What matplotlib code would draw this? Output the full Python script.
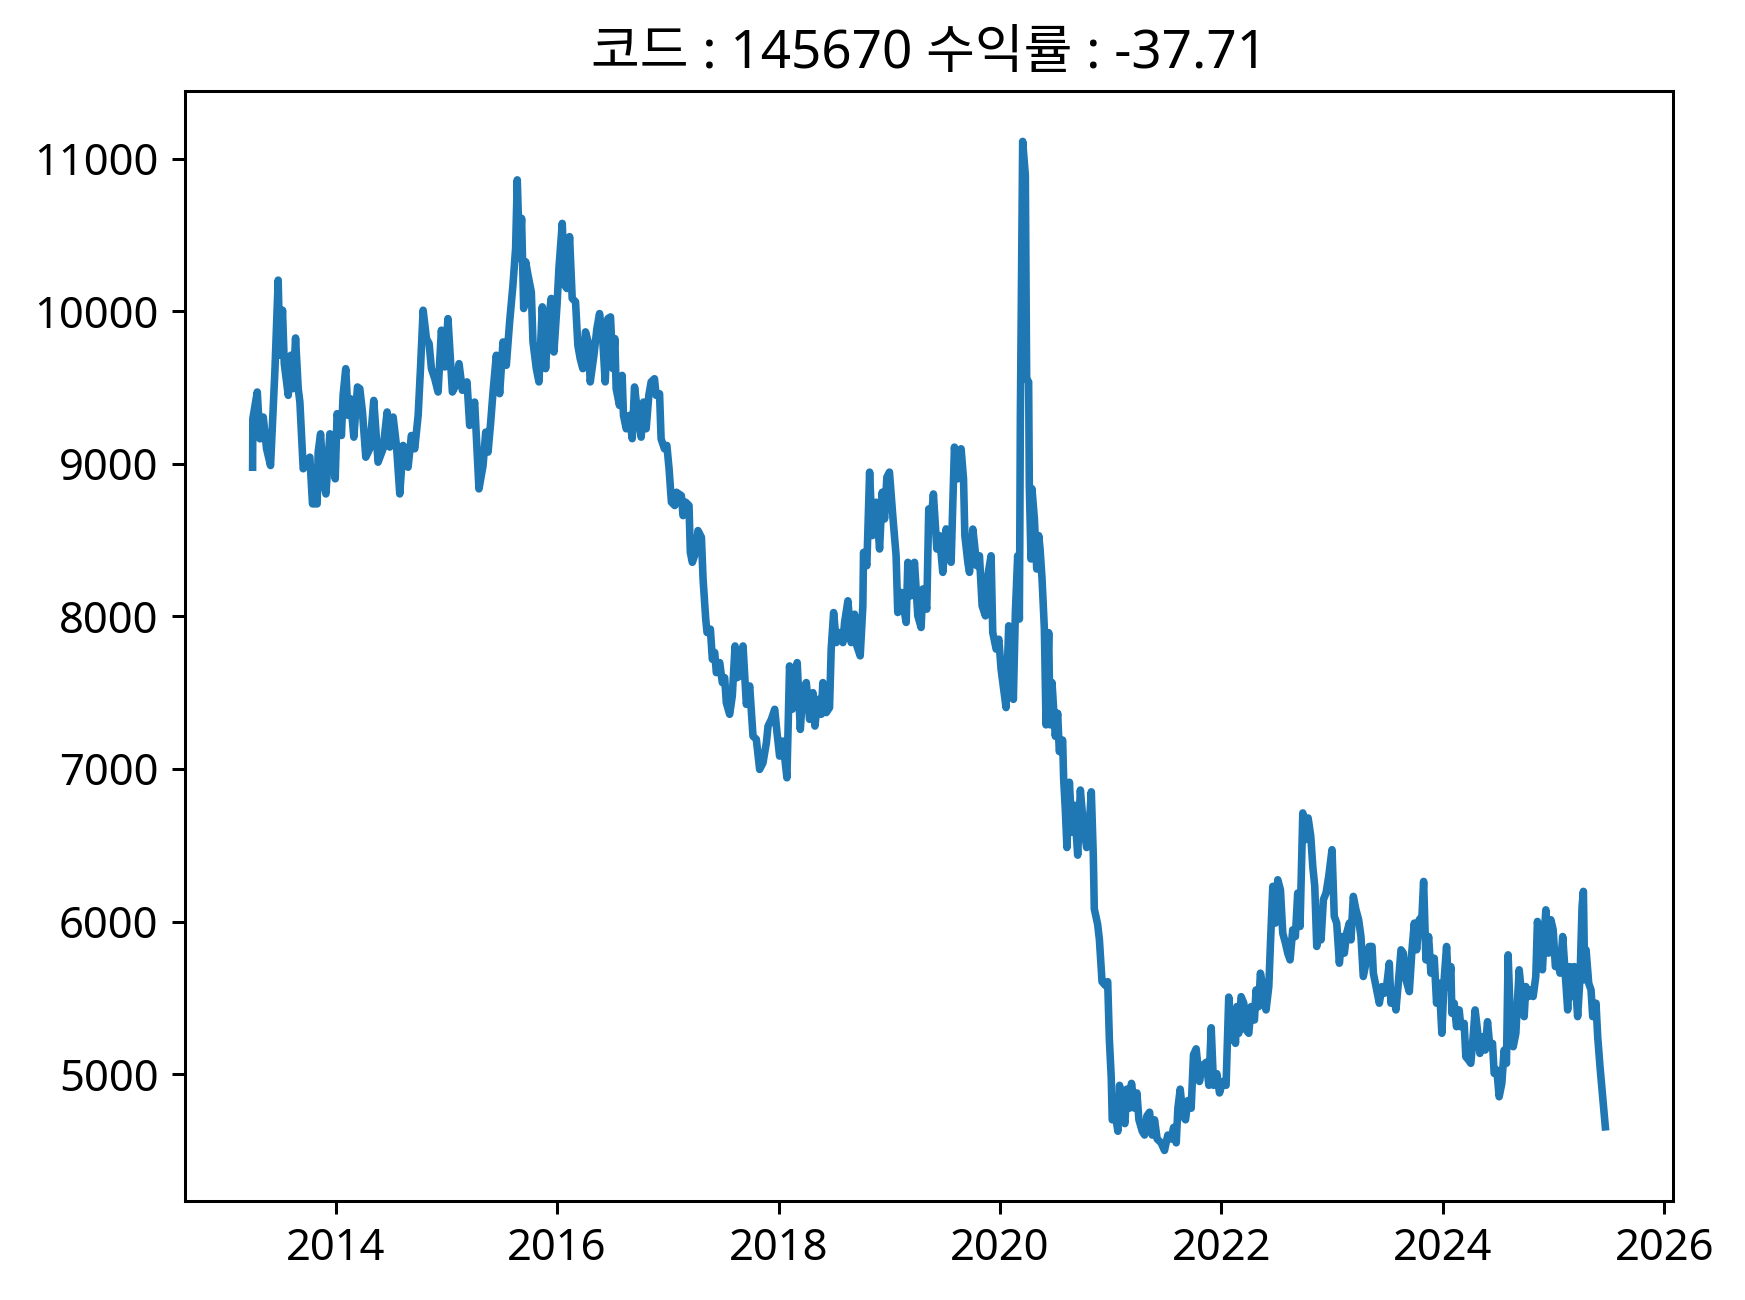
import matplotlib
matplotlib.use("Agg")
import matplotlib.pyplot as plt
import matplotlib.dates as mdates
import pandas as pd

# 숫자는 Noto Sans, 한글은 Noto Sans CJK KR 로
plt.rcParams['font.family'] = ['Noto Sans', 'Noto Sans CJK KR', 'DejaVu Sans']

code = '145670'
ret = -37.71

# 날짜 (소수 연도) / 종가 - 그림에서 읽은 값
t1 = [2013.248, 2013.250, 2013.290, 2013.314, 2013.344, 2013.374, 2013.410, 2013.434, 2013.449, 2013.479,
      2013.494, 2013.518, 2013.534, 2013.570, 2013.594, 2013.615, 2013.636, 2013.660, 2013.675, 2013.705,
      2013.765, 2013.789, 2013.831, 2013.840, 2013.862, 2013.886, 2013.910, 2013.946, 2013.970, 2013.994,
      2014.012, 2014.051, 2014.066, 2014.090, 2014.111, 2014.133, 2014.163, 2014.196, 2014.217, 2014.241,
      2014.271, 2014.307, 2014.343, 2014.382, 2014.427, 2014.464, 2014.488, 2014.518, 2014.548, 2014.578,
      2014.608, 2014.653, 2014.683, 2014.713, 2014.744, 2014.765, 2014.789, 2014.819, 2014.843, 2014.864,
      2014.894, 2014.924, 2014.954, 2014.984, 2015.014, 2015.054, 2015.084, 2015.114, 2015.144, 2015.186,
      2015.210, 2015.255, 2015.294, 2015.331, 2015.355, 2015.376, 2015.400, 2015.421, 2015.451, 2015.481,
      2015.511, 2015.541, 2015.571, 2015.601, 2015.625, 2015.640, 2015.661, 2015.679, 2015.698, 2015.716,
      2015.737, 2015.767, 2015.782, 2015.812, 2015.836, 2015.866, 2015.896, 2015.920, 2015.947, 2015.971,
      2015.999, 2016.017, 2016.047, 2016.068, 2016.089, 2016.113, 2016.137, 2016.167, 2016.188, 2016.209,
      2016.233, 2016.257, 2016.281, 2016.300, 2016.333, 2016.360, 2016.384, 2016.414, 2016.435, 2016.459,
      2016.483, 2016.504, 2016.522, 2016.534, 2016.564, 2016.588, 2016.600, 2016.625, 2016.655, 2016.679,
      2016.700, 2016.730, 2016.760, 2016.781, 2016.805, 2016.829, 2016.850, 2016.880, 2016.895, 2016.926]
p1 = [8977, 9295, 9470, 9163, 9306, 9098, 8988, 9360, 9601, 10203,
      9711, 10006, 9656, 9448, 9711, 9492, 9824, 9492, 9404, 8967,
      9043, 8737, 8737, 9076, 9196, 8879, 8802, 9196, 9185, 8901,
      9328, 9185, 9448, 9623, 9317, 9426, 9174, 9503, 9492, 9339,
      9043, 9098, 9415, 9010, 9098, 9339, 9109, 9306, 9120, 8802,
      9120, 8977, 9185, 9098, 9317, 9623, 10006, 9820, 9787, 9623,
      9557, 9470, 9875, 9634, 9951, 9470, 9514, 9656, 9481, 9536,
      9251, 9404, 8835, 8988, 9207, 9076, 9273, 9470, 9711, 9459,
      9798, 9645, 9929, 10170, 10411, 10860, 10345, 10608, 10017, 10323,
      10236, 10126, 9798, 9623, 9536, 10028, 9623, 9929, 10083, 9732,
      10039, 10280, 10575, 10170, 10148, 10488, 10083, 10061, 9776, 9689,
      9623, 9864, 9798, 9536, 9711, 9886, 9984, 9798, 9536, 9951,
      9962, 9623, 9820, 9492, 9382, 9579, 9317, 9229, 9317, 9164,
      9503, 9317, 9174, 9404, 9229, 9448, 9536, 9557, 9448, 9459]

t2 = [2016.940, 2016.970, 2016.992, 2017.010, 2017.031, 2017.061, 2017.076, 2017.121, 2017.136, 2017.160,
      2017.190, 2017.202, 2017.220, 2017.250, 2017.271, 2017.302, 2017.317, 2017.341, 2017.353, 2017.383,
      2017.401, 2017.422, 2017.437, 2017.467, 2017.491, 2017.512, 2017.527, 2017.557, 2017.581, 2017.606,
      2017.624, 2017.648, 2017.678, 2017.708, 2017.738, 2017.768, 2017.798, 2017.828, 2017.858, 2017.889,
      2017.904, 2017.934, 2017.964, 2017.985, 2018.009, 2018.039, 2018.075, 2018.099, 2018.123, 2018.168,
      2018.196, 2018.220, 2018.250, 2018.280, 2018.310, 2018.328, 2018.355, 2018.385, 2018.400, 2018.430,
      2018.460, 2018.475, 2018.497, 2018.521, 2018.551, 2018.581, 2018.596, 2018.626, 2018.656, 2018.686,
      2018.707, 2018.737, 2018.761, 2018.767, 2018.797, 2018.822, 2018.846, 2018.882, 2018.912, 2018.936,
      2018.957, 2018.978, 2019.002, 2019.032, 2019.062, 2019.077, 2019.107, 2019.153, 2019.168, 2019.198,
      2019.228, 2019.258, 2019.288, 2019.303, 2019.339, 2019.357, 2019.378, 2019.399, 2019.430, 2019.454,
      2019.484, 2019.514, 2019.559, 2019.589, 2019.619, 2019.649, 2019.671, 2019.683, 2019.710, 2019.725,
      2019.755, 2019.791, 2019.815, 2019.839, 2019.869, 2019.890, 2019.920, 2019.935, 2019.966, 2019.990,
      2020.011, 2020.056, 2020.080, 2020.101, 2020.122, 2020.140, 2020.161, 2020.176, 2020.180, 2020.185,
      2020.206, 2020.230, 2020.242, 2020.260, 2020.266, 2020.281, 2020.290, 2020.312, 2020.333, 2020.351,
      2020.363, 2020.381]
p2 = [9163, 9098, 9120, 8966, 8748, 8726, 8813, 8791, 8660, 8748,
      8726, 8419, 8354, 8419, 8562, 8518, 8244, 7982, 7894, 7916,
      7719, 7763, 7631, 7697, 7566, 7598, 7434, 7358, 7478, 7806,
      7598, 7609, 7806, 7423, 7544, 7215, 7194, 6997, 7040, 7172,
      7281, 7325, 7391, 7237, 7084, 7183, 6942, 7675, 7391, 7697,
      7259, 7522, 7566, 7325, 7500, 7281, 7456, 7358, 7566, 7369,
      7402, 7785, 8025, 7828, 7894, 7828, 7960, 8102, 7828, 8014,
      7806, 7741, 8069, 8419, 8332, 8945, 8529, 8748, 8441, 8813,
      8638, 8912, 8945, 8660, 8397, 8025, 8157, 7960, 8354, 8135,
      8354, 8004, 7927, 8179, 8047, 8704, 8616, 8802, 8441, 8529,
      8288, 8573, 8354, 9109, 8901, 9098, 8901, 8529, 8354, 8288,
      8572, 8332, 8397, 8069, 8003, 8266, 8397, 7894, 7785, 7850,
      7653, 7402, 7938, 7697, 7456, 8025, 8397, 7982, 8507, 9295,
      11112, 10892, 9557, 9535, 8857, 8376, 8836, 8638, 8310, 8529,
      8442, 8245]

t3 = [2020.402, 2020.417, 2020.441, 2020.453, 2020.471, 2020.501, 2020.522, 2020.537, 2020.567, 2020.576,
      2020.591, 2020.606, 2020.628, 2020.652, 2020.673, 2020.703, 2020.727, 2020.754, 2020.784, 2020.808,
      2020.826, 2020.844, 2020.853, 2020.883, 2020.899, 2020.923, 2020.953, 2020.974, 2020.989, 2021.004,
      2021.013, 2021.043, 2021.064, 2021.079, 2021.103, 2021.127, 2021.145, 2021.169, 2021.187, 2021.215,
      2021.236, 2021.254, 2021.284, 2021.305, 2021.326, 2021.350, 2021.374, 2021.395, 2021.419, 2021.455,
      2021.485, 2021.515, 2021.546, 2021.567, 2021.591, 2021.606, 2021.627, 2021.651, 2021.675, 2021.696,
      2021.726, 2021.747, 2021.771, 2021.801, 2021.825, 2021.862, 2021.886, 2021.907, 2021.928, 2021.958,
      2021.982, 2022.012, 2022.042, 2022.066, 2022.087, 2022.102, 2022.127, 2022.139, 2022.157, 2022.178,
      2022.202, 2022.223, 2022.247, 2022.268, 2022.298, 2022.313, 2022.337, 2022.352, 2022.379, 2022.403,
      2022.428, 2022.443, 2022.464, 2022.488, 2022.509, 2022.533, 2022.554, 2022.578, 2022.599, 2022.620,
      2022.644, 2022.668, 2022.689, 2022.710, 2022.735, 2022.759, 2022.783, 2022.807, 2022.825, 2022.843,
      2022.861, 2022.879, 2022.900, 2022.921, 2022.945, 2022.969, 2022.999, 2023.020, 2023.042, 2023.066,
      2023.090, 2023.111, 2023.132, 2023.156, 2023.171, 2023.192, 2023.216, 2023.240, 2023.261, 2023.282,
      2023.306, 2023.336, 2023.361, 2023.373, 2023.397, 2023.427, 2023.451, 2023.472, 2023.496, 2023.517,
      2023.532, 2023.556, 2023.577, 2023.601, 2023.623, 2023.644, 2023.668, 2023.698, 2023.722, 2023.743,
      2023.764, 2023.788, 2023.812, 2023.827, 2023.848, 2023.872]
p3 = [7918, 7289, 7893, 7289, 7566, 7214, 7365, 7114, 7189, 6938,
      6737, 6485, 6913, 6586, 6762, 6435, 6862, 6636, 6485, 6636,
      6850, 6435, 6083, 5983, 5882, 5606, 5581, 5606, 5229, 4978,
      4701, 4726, 4626, 4927, 4777, 4676, 4902, 4777, 4940, 4777,
      4877, 4701, 4626, 4601, 4726, 4751, 4601, 4701, 4575, 4550,
      4500, 4601, 4575, 4651, 4550, 4777, 4902, 4726, 4701, 4827,
      4777, 5128, 5166, 4952, 5053, 5078, 4927, 5304, 4927, 5003,
      4877, 4952, 4927, 5505, 5224, 5377, 5202, 5443, 5268, 5508,
      5465, 5290, 5268, 5443, 5355, 5552, 5443, 5662, 5552, 5421,
      5574, 5859, 6231, 5990, 6274, 6209, 5924, 5859, 5793, 5749,
      5946, 5902, 6187, 5968, 6712, 6537, 6679, 6559, 6362, 6231,
      5837, 6034, 5880, 6143, 6187, 6296, 6471, 6034, 5990, 5727,
      5902, 5793, 5924, 5990, 5880, 6165, 6077, 6012, 5902, 5640,
      5727, 5837, 5837, 5662, 5574, 5465, 5574, 5530, 5596, 5727,
      5465, 5530, 5421, 5618, 5815, 5793, 5618, 5541, 5815, 5990,
      5815, 6012, 6034, 6263, 5749, 5902]

t4 = [2023.893, 2023.923, 2023.944, 2023.968, 2023.992, 2024.013, 2024.035, 2024.053, 2024.074, 2024.083,
      2024.104, 2024.125, 2024.149, 2024.164, 2024.194, 2024.209, 2024.233, 2024.254, 2024.275, 2024.293,
      2024.314, 2024.336, 2024.360, 2024.384, 2024.405, 2024.426, 2024.450, 2024.465, 2024.489, 2024.510,
      2024.534, 2024.555, 2024.576, 2024.591, 2024.615, 2024.637, 2024.661, 2024.676, 2024.691, 2024.715,
      2024.736, 2024.751, 2024.775, 2024.796, 2024.817, 2024.841, 2024.856, 2024.877, 2024.901, 2024.916,
      2024.932, 2024.956, 2024.977, 2024.998, 2025.016, 2025.037, 2025.058, 2025.082, 2025.106, 2025.127,
      2025.148, 2025.172, 2025.187, 2025.217, 2025.239, 2025.257, 2025.269, 2025.281, 2025.293, 2025.317,
      2025.338, 2025.353, 2025.383, 2025.398, 2025.419, 2025.443, 2025.467]
p4 = [5662, 5760, 5465, 5596, 5268, 5618, 5837, 5574, 5705, 5399,
      5465, 5311, 5421, 5311, 5333, 5114, 5093, 5071, 5246, 5421,
      5290, 5136, 5246, 5158, 5344, 5180, 5202, 5005, 5027, 4852,
      4939, 5158, 5071, 5782, 5290, 5180, 5268, 5487, 5684, 5509,
      5377, 5574, 5509, 5552, 5509, 5640, 6001, 5859, 5684, 5902,
      6077, 5793, 6012, 5946, 5705, 5749, 5662, 5902, 5640, 5421,
      5705, 5509, 5705, 5377, 5640, 6099, 6198, 5618, 5815, 5596,
      5552, 5377, 5465, 5246, 5049, 4852, 4655]


def to_date(t):
    y = int(t)
    return pd.Timestamp(year=y, month=1, day=1) + pd.Timedelta(days=(t - y) * 365.25)


years = t1 + t2 + t3 + t4
close = p1 + p2 + p3 + p4
dates = [to_date(t) for t in years]

fig, ax = plt.subplots(figsize=(6.4, 4.768), dpi=272.66)
fig.subplots_adjust(left=0.106, right=0.9587, bottom=0.0762, top=0.93)

ax.plot(dates, close, color='#1f77b4', linewidth=2)
ax.set_title('코드 : ' + code + ' 수익률 : ' + str(ret), fontsize=14)

ax.xaxis.set_major_locator(mdates.YearLocator(2))
ax.xaxis.set_major_formatter(mdates.DateFormatter('%Y'))
ax.tick_params(labelsize=11.5)

fig.savefig('out.png', dpi=272.66)
